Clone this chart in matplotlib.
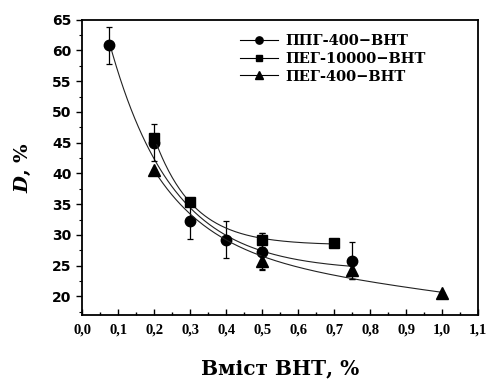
import matplotlib
matplotlib.use("Agg")
import matplotlib.pyplot as plt
import numpy as np
from matplotlib.ticker import MultipleLocator, FuncFormatter

plt.rcParams["mathtext.fontset"] = "dejavuserif"

# дані з графіка
x_ppg = [0.075, 0.2, 0.3, 0.4, 0.5, 0.75]
y_ppg = [60.8, 45.0, 32.3, 29.2, 27.3, 25.8]
e_ppg = [3.0, 3.0, 3.0, 3.0, 3.0, 3.0]

x_peg10k = [0.2, 0.3, 0.5, 0.7]
y_peg10k = [45.8, 35.4, 29.2, 28.7]
e_peg10k = [0, 0, 1.1, 0]

x_peg400 = [0.2, 0.5, 0.75, 1.0]
y_peg400 = [40.5, 25.7, 24.3, 20.6]
e_peg400 = [0, 1.3, 1.4, 0]

labels = ["ППГ-400\u2212ВНТ", "ПЕГ-10000\u2212ВНТ", "ПЕГ-400\u2212ВНТ"]


def exp_fit(x, y, lin=False, crange=(0.5, 20), w=None):
    # y = a + b*exp(-c*x) (+ d*x), підбір c по сітці
    x = np.asarray(x)
    y = np.asarray(y)
    w = np.ones_like(x) if w is None else np.asarray(w, float)
    best = None
    for c in np.linspace(crange[0], crange[1], 300):
        cols = [np.ones_like(x), np.exp(-c * x)]
        if lin:
            cols.append(x)
        A = np.column_stack(cols)
        coef, *_ = np.linalg.lstsq(A * w[:, None], y * w, rcond=None)
        r = np.sum(((A @ coef - y) * w) ** 2)
        if best is None or r < best[0]:
            best = (r, c, coef)
    _, c, coef = best
    xx = np.linspace(x.min(), x.max(), 200)
    yy = coef[0] + coef[1] * np.exp(-c * xx)
    if lin:
        yy = yy + coef[2] * xx
    return xx, yy


fig = plt.figure(figsize=(4.86, 3.85), dpi=100)
ax = fig.add_axes([0.169, 0.182, 0.815, 0.767])

fits = [dict(), dict(),
        dict(lin=True, crange=(4, 6), w=[3, 1, 1, 3])]
series = [(x_ppg, y_ppg, e_ppg, "o", 7.5),
          (x_peg10k, y_peg10k, e_peg10k, "s", 7),
          (x_peg400, y_peg400, e_peg400, "^", 8)]
for (xs, ys, es, m, ms), fk, lab in zip(series, fits, labels):
    xx, yy = exp_fit(xs, ys, **fk)
    ax.plot(xx, yy, color="#222222", lw=0.8)
    ax.errorbar(xs, ys, yerr=es, fmt="none", ecolor="black", elinewidth=0.9,
                capsize=2.5, capthick=0.9)
    ax.plot(xs, ys, m, color="black", ms=ms, ls="none")
    ax.plot([], [], "-" + m, color="black", ms=ms * 0.7, lw=0.8, label=lab)

ax.set_xlim(0, 1.1)
ax.set_ylim(17, 65)
ax.xaxis.set_major_locator(MultipleLocator(0.1))
ax.xaxis.set_minor_locator(MultipleLocator(0.05))
ax.yaxis.set_major_locator(MultipleLocator(5))
ax.yaxis.set_minor_locator(MultipleLocator(2.5))
ax.xaxis.set_major_formatter(FuncFormatter(lambda v, p: f"{v:.1f}".replace(".", ",")))

ax.tick_params(axis="x", which="major", direction="in", length=4, width=1, pad=6)
ax.tick_params(axis="x", which="minor", direction="in", length=2.5, width=1)
ax.tick_params(axis="y", which="major", direction="out", length=4, width=1)
ax.tick_params(axis="y", which="minor", direction="out", length=2, width=0.8)
for s in ax.spines.values():
    s.set_linewidth(1.3)

for t in ax.get_xticklabels():
    t.set_fontfamily("Liberation Serif")
    t.set_fontweight("bold")
    t.set_fontsize(10.5)
for t in ax.get_yticklabels():
    t.set_fontfamily("DejaVu Sans")
    t.set_fontweight("bold")
    t.set_fontsize(10)

ax.set_xlabel("Вміст ВНТ, %", fontfamily="DejaVu Serif", fontweight="bold",
              fontsize=14.5, labelpad=16)
ax.set_ylabel(r"$\mathbfit{D}$, %", fontfamily="DejaVu Serif",
              fontweight="bold", fontsize=14, labelpad=14)

leg = ax.legend(loc="upper left", bbox_to_anchor=(0.365, 0.995), frameon=False,
                prop={"family": "DejaVu Serif", "weight": "bold", "size": 10.5},
                handlelength=2.6, handletextpad=0.5, labelspacing=0.25)

fig.savefig("out.png", dpi=100)
